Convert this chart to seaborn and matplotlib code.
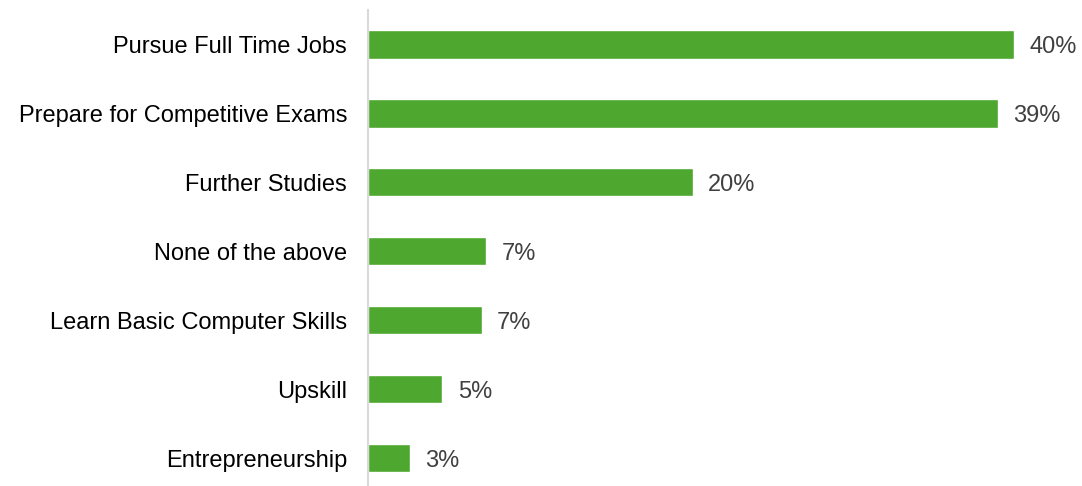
import pandas as pd
import numpy as np
from matplotlib import pyplot as plt
import seaborn as sns

# categories and shares (%)
categories = ['Pursue Full Time Jobs', 'Prepare for Competitive Exams', 'Further Studies',
              'None of the above', 'Learn Basic Computer Skills', 'Upskill', 'Entrepreneurship']
shares = [40.0, 39.0, 20.1, 7.3, 7.05, 4.6, 2.6]
labels = ['40%', '39%', '20%', '7%', '7%', '5%', '3%']

df = pd.DataFrame({'category': categories, 'share': shares})

sns.set_style('white')
plt.rcParams['font.family'] = ['Liberation Sans', 'DejaVu Sans']

fig = plt.figure(figsize=(10.82, 4.86), dpi=100)
ax = fig.add_axes([368 / 1082, -6.5 / 486, 714 / 1082, 482.5 / 486])

sns.barplot(data=df, x='share', y='category', orient='h', color='#4EA72E',
            saturation=1, width=0.41, ax=ax)

for i, (v, lab) in enumerate(zip(shares, labels)):
    ax.text(v + 0.95, i, lab, va='center_baseline', ha='left', fontsize=17, color='#404040')

ax.set_xlim(0, 44.2)
ax.set_ylim(6.5, -0.5)
ax.set_xlabel('')
ax.set_ylabel('')
ax.set_xticks([])
ax.tick_params(axis='y', length=0, pad=15, labelsize=17, labelcolor='#000000')
for s in ['top', 'right', 'bottom']:
    ax.spines[s].set_visible(False)
ax.spines['left'].set_color('#d9d9d9')
ax.spines['left'].set_linewidth(1.5)

fig.savefig('out.png', dpi=100)
